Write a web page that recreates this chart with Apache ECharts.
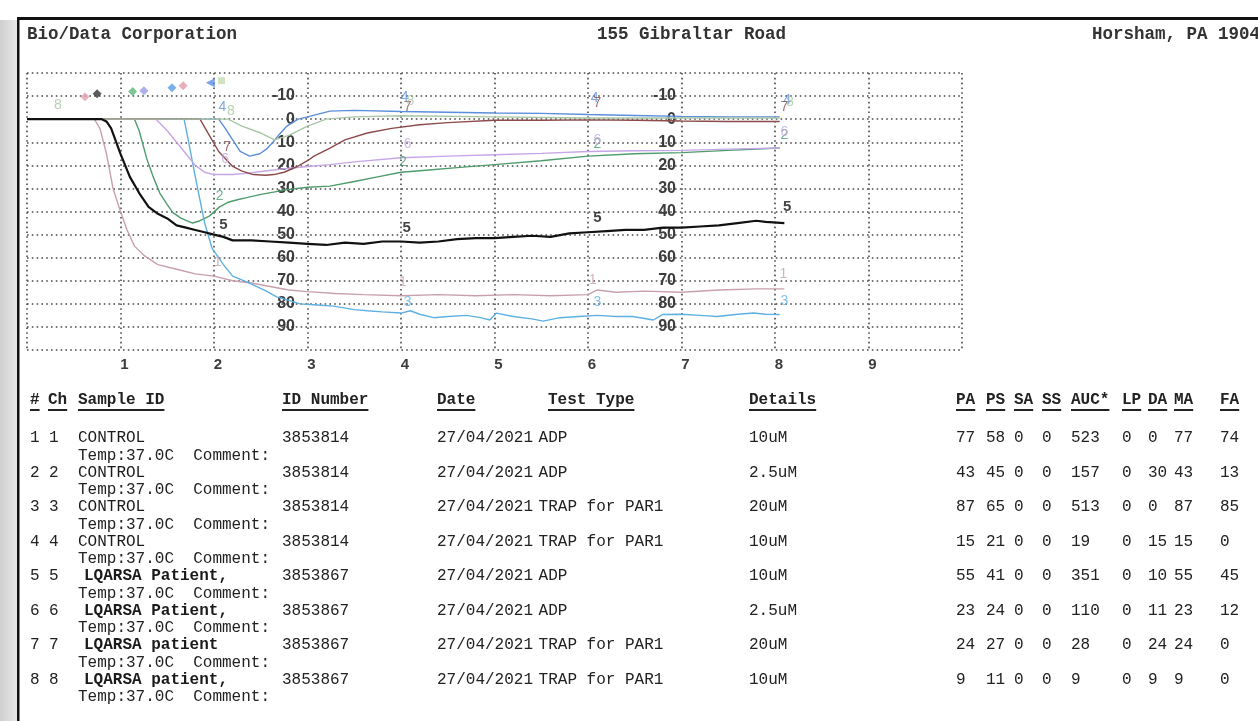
<!DOCTYPE html>
<html><head><meta charset="utf-8">
<script src="https://cdn.jsdelivr.net/npm/echarts@6/dist/echarts.min.js"></script>
<style>html,body{margin:0;padding:0;background:#fff}#c{width:1258px;height:721px}</style>
</head><body><div id="c"></div>
<script>
// ---------------- DATA ----------------
const headerLeft = 'Bio/Data Corporation';
const headerMid = '155 Gibraltar Road';
const headerRight = 'Horsham, PA 19044';

const xTickLabels = ['1','2','3','4','5','6','7','8','9'];
const yTickLabels = ['-10','0','10','20','30','40','50','60','70','80','90'];
const yTickValues = [-10,0,10,20,30,40,50,60,70,80,90];

const channels = ['1','2','3','4','5','6','7','8'];
const chColors = ['#c9a0aa','#4e9c6c','#5fb0e2','#5a8edc','#111111','#c6a6e6','#8c4a4a','#a9c6a6'];

// aggregation traces [minutes, % aggregation]
const ch1 = [[0,0],[0.72,0],[0.78,4],[0.85,15],[0.92,30],[1.0,40],[1.07,48],[1.15,55],[1.25,59],[1.4,63],[1.6,65],[1.8,67],[2.0,68],[2.2,70],[2.4,71],[2.6,72.5],[2.8,74],[3.0,74.7],[3.3,75.5],[3.6,76],[4.0,76.5],[4.4,76],[4.8,76.5],[5.2,76],[5.6,76.5],[6.0,76],[6.1,74],[6.3,75],[6.6,74.5],[7.0,75],[7.4,74],[7.8,73.5],[8.1,73.5]];
const ch2 = [[0,0],[1.15,0],[1.2,5],[1.28,17],[1.35,25],[1.42,32],[1.5,37],[1.56,40.5],[1.65,43],[1.77,45],[1.85,44],[1.95,42],[2.06,38],[2.15,36],[2.24,35],[2.35,34],[2.49,32.7],[2.65,31.5],[2.78,30.5],[3.0,29.5],[3.24,29],[3.5,27],[3.75,25],[4.0,23],[4.3,22],[4.6,21],[5.0,19.7],[5.5,18],[6.0,16],[6.5,15],[7.0,14.5],[7.5,13.5],[8.05,12.5]];
const ch3 = [[0,0],[1.68,0],[1.72,8],[1.8,25],[1.9,45],[1.98,56],[2.05,60],[2.1,63],[2.2,68],[2.38,71],[2.56,74.5],[2.67,77],[2.8,78.5],[2.92,80],[3.1,80.5],[3.28,81],[3.5,82.5],[3.64,83],[3.8,83.5],[4.0,84],[4.1,83],[4.2,84.5],[4.35,86],[4.5,85.5],[4.7,85],[4.85,86],[4.95,87],[5.02,84],[5.2,85.5],[5.4,86.5],[5.52,87.5],[5.7,86],[5.9,85.5],[6.1,85],[6.3,85.5],[6.48,85.5],[6.7,87],[6.8,84.6],[7.0,84.5],[7.2,85],[7.38,85.5],[7.6,84.5],[7.77,84],[7.9,84.5],[8.05,84.6]];
const ch4 = [[0,0],[2.05,0],[2.12,4],[2.2,9],[2.28,14],[2.38,16],[2.49,15],[2.56,13],[2.63,10],[2.7,6.5],[2.78,3],[2.9,0],[3.0,-1],[3.24,-3.5],[3.5,-3.8],[4.0,-3.3],[4.5,-3],[5.0,-2.7],[5.5,-2.5],[6.0,-2],[6.5,-1.6],[7.0,-1.2],[7.5,-1],[8.05,-1]];
const ch5 = [[0,0],[0.8,0],[0.85,1],[0.9,4],[1.0,15],[1.1,25],[1.2,32],[1.3,38],[1.4,41],[1.5,43],[1.6,46],[1.7,47],[1.8,48],[1.9,49],[2.0,50],[2.1,51],[2.2,52.5],[2.4,52.5],[2.6,53],[2.8,53.5],[3.0,54],[3.2,54.5],[3.4,53.5],[3.6,54],[3.8,53],[4.0,53],[4.2,53.5],[4.4,53],[4.6,52],[4.8,51.5],[5.0,51.5],[5.2,51],[5.4,50.5],[5.6,51],[5.8,49.5],[6.0,49],[6.2,48.5],[6.4,48],[6.6,48],[6.8,47],[7.0,47],[7.2,46.5],[7.4,46],[7.6,45],[7.8,44],[7.9,44.5],[8.1,45]];
const ch6 = [[0,0],[1.38,0],[1.5,5],[1.6,10],[1.7,15],[1.8,20],[1.9,23],[2.0,24],[2.2,24],[2.35,23.5],[2.5,22.7],[2.75,21.5],[3.0,20.5],[3.24,19.7],[3.5,18.5],[4.0,16.7],[4.5,16],[5.0,15.4],[5.5,14.8],[6.0,14],[6.5,13.7],[7.0,13.5],[7.5,13],[8.05,12.5]];
const ch7 = [[0,0],[1.85,0],[1.95,7],[2.05,14],[2.2,20.5],[2.3,22.5],[2.42,24],[2.55,24.3],[2.64,24],[2.75,23],[2.89,20.5],[3.0,18],[3.07,16],[3.24,12.5],[3.4,9],[3.64,6],[3.9,4],[4.2,2.4],[4.5,1.5],[5.0,0.5],[5.5,0.5],[6.0,0.3],[6.5,0.5],[7.0,0.8],[7.5,1],[8.05,1]];
const ch8 = [[0,0],[2.15,0],[2.3,3],[2.5,6],[2.65,9],[2.8,7],[3.0,3],[3.2,0],[3.5,-1],[4.0,-1.5],[5.0,-1],[6.0,-0.5],[7.0,-0.5],[8.05,-0.5]];

// channel number annotations along the traces [minutes, level]
const ch1Tags = [[2.04,61.8],[4.02,70.5],[6.05,69.7],[8.09,67.3]];
const ch2Tags = [[2.06,33.5],[4.02,18.8],[6.1,11],[8.1,7]];
const ch3Tags = [[4.07,79.4],[6.1,79.4],[8.1,78.8]];
const ch4Tags = [[2.09,-5.4],[4.04,-9.7],[6.07,-9.3],[8.13,-8.4]];
const ch5Tags = [[2.1,45.7],[4.06,47],[6.1,42.6],[8.13,38]];
const ch6Tags = [[2.12,17.5],[4.07,11],[6.1,9],[8.1,5.8]];
const ch7Tags = [[2.14,12],[4.07,-5.4],[6.1,-7],[8.1,-5]];
const ch8Tags = [[0.33,-6],[2.18,-3.5],[4.1,-8],[8.16,-7.5]];

// agonist addition markers
const markerTimes = [0.62,0.75,1.13,1.25,1.55,1.67,1.96,2.08];
const markerLevels = [-9.7,-11,-12,-12.3,-13.6,-14.5,-15.8,-16.7];
const markerColors = ['#e6a0b0','#333333','#5cb87c','#9a9ae6','#5a9ee6','#e49aae','#5a8ee0','#c4dcb4'];

// results table
const tableHeaders = ['#','Ch','Sample ID','ID Number','Date','Test Type','Details','PA','PS','SA','SS','AUC*','LP','DA','MA','FA'];
const rowNo = ['1','2','3','4','5','6','7','8'];
const rowCh = ['1','2','3','4','5','6','7','8'];
const sampleIds = ['CONTROL','CONTROL','CONTROL','CONTROL','LQARSA Patient,','LQARSA Patient,','LQARSA patient','LQARSA patient,'];
const idNumbers = ['3853814','3853814','3853814','3853814','3853867','3853867','3853867','3853867'];
const dates = ['27/04/2021','27/04/2021','27/04/2021','27/04/2021','27/04/2021','27/04/2021','27/04/2021','27/04/2021'];
const testTypes = ['ADP','ADP','TRAP for PAR1','TRAP for PAR1','ADP','ADP','TRAP for PAR1','TRAP for PAR1'];
const details = ['10uM','2.5uM','20uM','10uM','10uM','2.5uM','20uM','10uM'];
const PA = [77,43,87,15,55,23,24,9];
const PS = [58,45,65,21,41,24,27,11];
const SA = [0,0,0,0,0,0,0,0];
const SS = [0,0,0,0,0,0,0,0];
const AUC = [523,157,513,19,351,110,28,9];
const LP = [0,0,0,0,0,0,0,0];
const DA = [0,30,0,15,10,11,24,9];
const MA = [77,43,87,15,55,23,24,9];
const FA = [74,13,85,0,45,12,0,0];
const tempLine = 'Temp:37.0C';
const commentLine = 'Comment:';

// ---------------- LAYOUT ----------------
const MONO = '"Liberation Mono","Courier New",monospace';
const SANS = '"Liberation Sans",Arial,sans-serif';
const CW = 9.6;
const colX = [30,48,78,282,437,548,749,956,986,1014,1042,1071,1122,1148,1174,1220];
const headY = 400, row0Y = 438, rowH = 34.5;

const chart = echarts.init(document.getElementById('c'), null, {renderer:'canvas'});
const traces = [ch1,ch2,ch3,ch4,ch5,ch6,ch7,ch8];
const tags = [ch1Tags,ch2Tags,ch3Tags,ch4Tags,ch5Tags,ch6Tags,ch7Tags,ch8Tags];

const series = [];
traces.forEach((d,i)=>{
  series.push({type:'line', name:'Ch '+channels[i], data:d, showSymbol:false, silent:true,
    z: i===4 ? 5 : 3,
    lineStyle:{color:chColors[i], width: i===4 ? 2.2 : 1.4}});
});
tags.forEach((d,i)=>{
  series.push({type:'scatter', data:d, symbolSize:1, itemStyle:{color:'rgba(0,0,0,0)'}, silent:true, z:6,
    label:{show:true, position:'inside', formatter:channels[i], color: i===4 ? '#111' : chColors[i],
      fontFamily:SANS, fontSize: i===4 ? 15 : 14, fontWeight: i===4 ? 'bold' : 'normal'}});
});
series.push({type:'scatter', silent:true, z:6,
  data: markerTimes.map((t,i)=>({value:[t, markerLevels[i]], itemStyle:{color:markerColors[i]},
    symbol: i===6 ? 'triangle' : (i===7 ? 'rect' : 'diamond'), symbolRotate: i===6 ? 90 : 0,
    symbolSize: i===7 ? 7 : 9})) });

const gridLine = {show:true, lineStyle:{type:[1.6,3.2], width:1.6, color:'#4a4a4a'}};
const yLabelFmt = v => { const k = yTickValues.indexOf(v); return k<0 ? '' : yTickLabels[k]; };
const yBase = {type:'value', inverse:true, min:-20, max:100, interval:10, position:'left',
  axisLine:{show:false}, axisTick:{show:false}};

// graphic elements
const g = [];
g.push({type:'rect', shape:{x:0,y:20,width:17,height:701}, style:{fill:new echarts.graphic.LinearGradient(0,0,1,0,[{offset:0,color:'#cfcfcf'},{offset:1,color:'#e8e8e8'}])}, silent:true});
g.push({type:'rect', shape:{x:17,y:17,width:1241,height:3}, style:{fill:'#111'}, silent:true});
g.push({type:'rect', shape:{x:17,y:17,width:2.5,height:704}, style:{fill:'#111'}, silent:true});
function txt(s,x,y,font,fill,align){
  g.push({type:'text', silent:true, x:x, y:y, style:{text:s, font:font, fill:fill||'#222', align:align||'left', verticalAlign:'middle', textAlign:align||'left', textVerticalAlign:'middle'}});
}
const hFont = 'bold 17.5px '+MONO;
txt(headerLeft, 27, 35, hFont, '#333');
txt(headerMid, 597, 35, hFont, '#333');
txt(headerRight, 1092, 35, hFont, '#333');

const thFont = 'bold 16px '+MONO;
const tdFont = '16px '+MONO;
tableHeaders.forEach((h,i)=>{
  txt(h, colX[i], headY, thFont, '#222');
  g.push({type:'rect', silent:true, shape:{x:colX[i], y:headY+9, width:h.length*CW, height:2}, style:{fill:'#222'}});
});
const numCols = [PA,PS,SA,SS,AUC,LP,DA,MA,FA];
for (let r=0;r<8;r++){
  const y = row0Y + r*rowH;
  txt(rowNo[r], colX[0], y, tdFont);
  txt(rowCh[r], colX[1]+1, y, tdFont);
  const bold = r>=4;
  txt(sampleIds[r], colX[2] + (bold?6:0), y, (bold?'bold ':'')+'16px '+MONO, '#1a1a1a');
  txt(idNumbers[r], colX[3], y, tdFont);
  txt(dates[r], colX[4], y, tdFont);
  txt(testTypes[r], colX[4] + 11*CW - 4, y, tdFont);
  txt(details[r], colX[6], y, tdFont);
  numCols.forEach((arr,k)=> txt(String(arr[r]), colX[7+k], y, tdFont));
  txt(tempLine, colX[2], y+17.5, tdFont);
  txt(commentLine, colX[2] + 12*CW, y+17.5, tdFont);
}

chart.setOption({
  backgroundColor:'#ffffff',
  animation:false,
  grid:{left:27, top:73, right:296, bottom:371, containLabel:false},
  xAxis:{type:'value', min:0, max:10, interval:1,
    axisLine:{show:false}, axisTick:{show:false}, splitLine:gridLine,
    axisLabel:{margin:7, padding:[0,0,0,8], fontFamily:SANS, fontWeight:'bold', fontSize:15, color:'#3c3c3c',
      formatter: v => (v>=1 && v<=9) ? xTickLabels[v-1] : ''}},
  yAxis:[
    Object.assign({}, yBase, {offset:-280, splitLine:gridLine,
      axisLabel:{margin:12, formatter:yLabelFmt, fontFamily:SANS, fontWeight:'bold', fontSize:16, color:'#3c3c3c'}}),
    Object.assign({}, yBase, {offset:-653, splitLine:{show:false},
      axisLabel:{margin:4, formatter:yLabelFmt, fontFamily:SANS, fontWeight:'bold', fontSize:16, color:'#3c3c3c'}})
  ],
  series: series,
  graphic: g
});
</script></body></html>
